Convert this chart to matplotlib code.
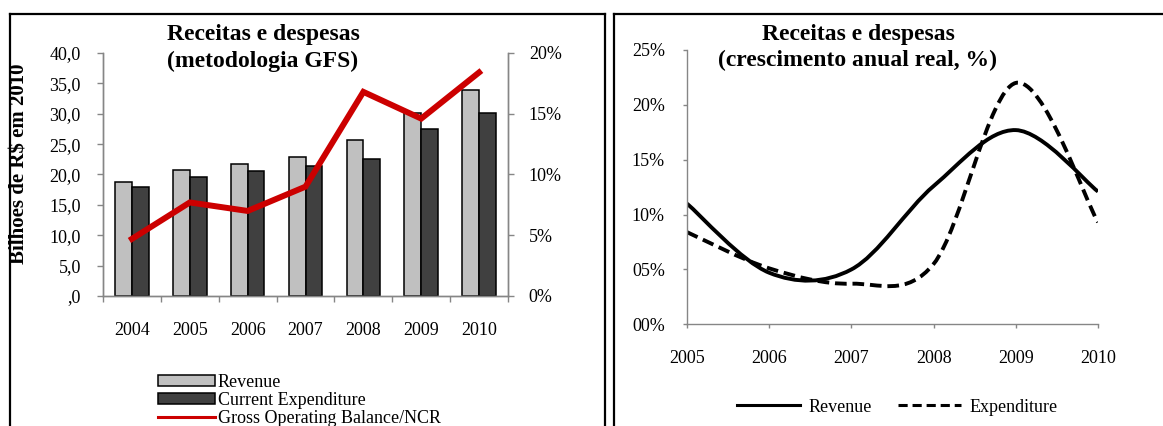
import numpy as np
import matplotlib
matplotlib.use("Agg")
import matplotlib.pyplot as plt
from matplotlib.path import Path
from matplotlib.patches import PathPatch, Patch
from matplotlib.lines import Line2D

plt.rcParams['font.family'] = 'Liberation Serif'

# left panel: levels (R$ bn, 2010 prices) and operating balance ratio
years = ['2004', '2005', '2006', '2007', '2008', '2009', '2010']
revenue = [18.7, 20.8, 21.7, 22.8, 25.6, 30.2, 33.9]
current_exp = [18.0, 19.6, 20.5, 21.4, 22.5, 27.5, 30.1]
gob_ncr = [4.7, 7.7, 7.0, 9.0, 16.8, 14.6, 18.4]
left_ticks = [0, 5, 10, 15, 20, 25, 30, 35, 40]
left_ticklabels = [',0', '5,0', '10,0', '15,0', '20,0', '25,0', '30,0', '35,0', '40,0']
pct_ticks = [0, 5, 10, 15, 20]
pct_ticklabels = ['0%', '5%', '10%', '15%', '20%']

# right panel: real annual growth, %
growth_years = [2005, 2006, 2007, 2008, 2009, 2010]
rev_growth = [11.0, 4.7, 5.0, 12.6, 17.7, 12.1]
exp_growth = [8.4, 5.1, 3.7, 5.5, 22.0, 9.3]
growth_ticks = [0, 5, 10, 15, 20, 25]
growth_ticklabels = ['00%', '05%', '10%', '15%', '20%', '25%']

W, H = 1163, 426
GREY = '#868686'
fig = plt.figure(figsize=(W / 100, H / 100), dpi=100)


def fx(px):
    return px / W


def fy(py):
    return 1 - py / H


def smooth_path(x, y):
    # cubic Bezier through every point (Catmull-Rom style tangents)
    pts = np.column_stack([np.asarray(x, float), np.asarray(y, float)])
    pad = np.vstack([pts[0], pts, pts[-1]])
    verts = [pts[0]]
    codes = [Path.MOVETO]
    for i in range(len(pts) - 1):
        p0, p1, p2, p3 = pad[i], pad[i + 1], pad[i + 2], pad[i + 3]
        verts += [p1 + (p2 - p0) / 6, p2 - (p3 - p1) / 6, p2]
        codes += [Path.CURVE4] * 3
    return Path(verts, codes)


# ---- left panel ----
ax = fig.add_axes([fx(103), fy(296), fx(508) - fx(103), fy(53) - fy(296)])
x = np.arange(len(years))
w = 0.29
ax.bar(x - w / 2, revenue, w, color='#C0C0C0', edgecolor='black', linewidth=1.1, zorder=2)
ax.bar(x + w / 2, current_exp, w, color='#404040', edgecolor='black', linewidth=1.1, zorder=2)
ax.set_xlim(-0.5, len(years) - 0.5)
ax.set_ylim(0, 40)
ax.set_yticks(left_ticks)
ax.set_yticklabels(left_ticklabels)
ax.set_xticks(np.arange(-0.5, len(years), 1))
ax.set_xticklabels([])
ax.set_xticks(x, minor=True)
ax.set_xticklabels(years, minor=True)
ax.tick_params(axis='x', which='major', direction='out', length=4, color=GREY, width=1)
ax.tick_params(axis='x', which='minor', length=0, pad=19, labelsize=13)
ax.tick_params(axis='y', direction='out', length=4.5, color=GREY, width=1, pad=11.5, labelsize=13)
ax.spines['top'].set_visible(False)
for s in ['left', 'right', 'bottom']:
    ax.spines[s].set_color(GREY)
    ax.spines[s].set_linewidth(1)

ax2 = ax.twinx()
ax2.plot(x, gob_ncr, color='#CC0000', linewidth=4.3, solid_joinstyle='miter', zorder=3)
ax2.set_ylim(0, 20)
ax2.set_yticks(pct_ticks)
ax2.set_yticklabels(pct_ticklabels)
ax2.tick_params(axis='y', direction='out', length=4.5, color=GREY, width=1, pad=10.5, labelsize=13)
ax2.spines['top'].set_visible(False)
for s in ['left', 'right', 'bottom']:
    ax2.spines[s].set_color(GREY)
    ax2.spines[s].set_linewidth(1)

fig.text(fx(263), fy(40), 'Receitas e despesas', ha='center', va='baseline',
         fontsize=17, fontweight='bold')
fig.text(fx(263), fy(66.5), '(metodologia GFS)', ha='center', va='baseline',
         fontsize=17, fontweight='bold')
fig.text(fx(20), fy(164), 'Bilhoes de R$ em 2010', rotation=90, ha='center', va='center',
         fontsize=15, fontweight='bold', zorder=5)

left_handles = [
    Patch(facecolor='#C0C0C0', edgecolor='black', linewidth=1.1),
    Patch(facecolor='#404040', edgecolor='black', linewidth=1.1),
    Line2D([], [], color='#CC0000', linewidth=2.2),
]
fig.legend(left_handles, ['Revenue', 'Current Expenditure', 'Gross Operating Balance/NCR'],
           loc='upper left', bbox_to_anchor=(fx(158), fy(374)), frameon=False,
           fontsize=13, borderpad=0, borderaxespad=0, handlelength=3.15,
           handleheight=0.55, handletextpad=0.15, labelspacing=0.06)

# ---- right panel ----
bx = fig.add_axes([fx(687), fy(324.3), fx(1098) - fx(687), fy(50) - fy(324.3)])
bx.add_patch(PathPatch(smooth_path(growth_years, rev_growth), fill=False,
                       edgecolor='black', linewidth=2.8, capstyle='butt'))
bx.add_patch(PathPatch(smooth_path(growth_years, exp_growth), fill=False,
                       edgecolor='black', linewidth=2.8, linestyle=(0, (3, 1.5)),
                       capstyle='butt'))
bx.set_xlim(growth_years[0], growth_years[-1])
bx.set_ylim(0, 25)
bx.set_xticks(growth_years)
bx.set_xticklabels([str(y) for y in growth_years])
bx.set_yticks(growth_ticks)
bx.set_yticklabels(growth_ticklabels)
bx.tick_params(axis='x', direction='out', length=3, color=GREY, width=1, pad=15.5, labelsize=13)
bx.tick_params(axis='y', direction='out', length=3, color=GREY, width=1, pad=13, labelsize=13)
for s in ['top', 'right']:
    bx.spines[s].set_visible(False)
for s in ['left', 'bottom']:
    bx.spines[s].set_color(GREY)
    bx.spines[s].set_linewidth(1)

fig.text(fx(858), fy(40), 'Receitas e despesas', ha='center', va='baseline',
         fontsize=17, fontweight='bold')
fig.text(fx(858), fy(66.5), '(crescimento anual real, %)', ha='center', va='baseline',
         fontsize=17, fontweight='bold')

right_handles = [
    Line2D([], [], color='black', linewidth=2.2),
    Line2D([], [], color='black', linewidth=2.2, linestyle=(0, (3, 1.6))),
]
fig.legend(right_handles, ['Revenue', 'Expenditure'], loc='center left',
           bbox_to_anchor=(fx(737), fy(407)), frameon=False, fontsize=13, ncol=2,
           borderpad=0, borderaxespad=0, handlelength=3.5, handletextpad=0.45,
           columnspacing=1.45)

# ---- panel borders ----
lw = 1.6
for xs, ys in [
    ([10, 10], [14, 440]), ([10, 605], [14, 14]), ([605, 605], [14, 440]),
    ([614, 614], [14, 440]), ([614, 1180], [14, 14]),
]:
    fig.add_artist(Line2D([fx(v) for v in xs], [fy(v) for v in ys], color='black',
                          linewidth=lw, transform=fig.transFigure, zorder=4))

fig.savefig('out.png', dpi=100)
